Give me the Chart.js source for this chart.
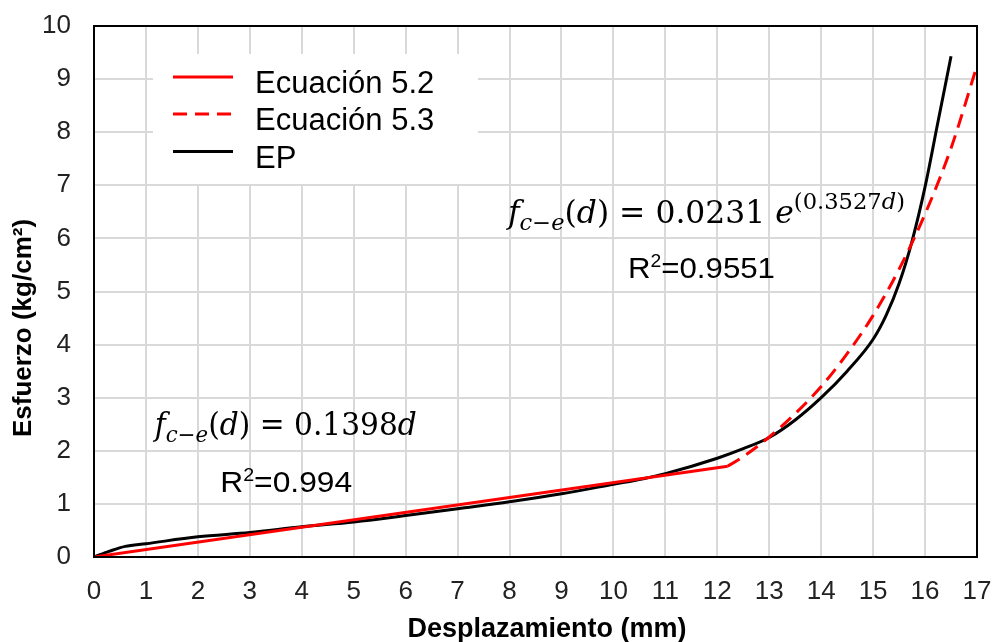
<!DOCTYPE html>
<html>
<head>
<meta charset="utf-8">
<script src="https://cdn.jsdelivr.net/npm/chart.js@4.4.1/dist/chart.umd.min.js"></script>
<style>
  html, body { margin: 0; padding: 0; background: #ffffff; }
  #wrap { width: 995px; height: 642px; position: relative; }
</style>
</head>
<body>
<div id="wrap"><canvas id="c" width="995" height="642"></canvas></div>
<script>
// ---- data ----
const eq52X = [0, 12.2];
const eq52Y = [0, 1.71];

const eq53X = [12.2, 12.5, 13, 13.5, 14, 14.5, 15, 15.5, 16, 16.5, 17];
const eq53Y = [1.71, 1.89, 2.26, 2.70, 3.21, 3.83, 4.55, 5.42, 6.46, 7.70, 9.25];

const epX = [0, 0.3, 0.6, 1, 2, 3, 4, 5, 6, 7, 8, 9, 10, 10.6, 11, 12, 12.5, 13, 13.5, 14, 14.5, 15, 15.25, 15.5, 15.75, 16, 16.25, 16.5];
const epY = [0, 0.11, 0.2, 0.25, 0.38, 0.46, 0.57, 0.66, 0.78, 0.91, 1.04, 1.19, 1.37, 1.48, 1.57, 1.86, 2.04, 2.25, 2.58, 3.0, 3.5, 4.1, 4.55, 5.15, 5.95, 6.97, 8.2, 9.43];

const seriesLabels = ['Ecuación 5.2', 'Ecuación 5.3', 'EP'];
const xTitle = 'Desplazamiento (mm)';
const yTitle = 'Esfuerzo (kg/cm²)';
const xMin = 0, xMax = 17, yMin = 0, yMax = 10;

const toPts = (xs, ys) => xs.map((x, i) => ({x: x, y: ys[i]}));

// ---- helper for rich (sub/superscript) text, fitted to a target width ----
function drawRich(ctx, x, y, pieces, size, family, targetW) {
  const fontOf = p => (p.i ? 'italic ' : '') + (size * (p.sc || 1)) + 'px ' + (p.f || family);
  let total = 0;
  pieces.forEach(p => { ctx.font = fontOf(p); total += ctx.measureText(p.t).width; });
  const k = targetW ? targetW / total : 1;
  ctx.save();
  ctx.translate(x, y);
  ctx.scale(k, 1);
  ctx.textAlign = 'left';
  ctx.textBaseline = 'alphabetic';
  let cx = 0;
  pieces.forEach(p => {
    ctx.font = fontOf(p);
    ctx.fillText(p.t, cx, (p.dy || 0) * size);
    cx += ctx.measureText(p.t).width;
  });
  ctx.restore();
}

const decorPlugin = {
  id: 'decor',
  beforeDatasetsDraw(chart) {
    const ctx = chart.ctx;
    ctx.save();
    ctx.fillStyle = '#ffffff';
    ctx.fillRect(153, 54, 325, 130);
    ctx.restore();
  },
  afterDatasetsDraw(chart) {
    const ctx = chart.ctx;
    const a = chart.chartArea;
    const xs = chart.scales.x, ys = chart.scales.y;
    ctx.save();
    ctx.strokeStyle = '#000000';
    ctx.lineWidth = 2;
    ctx.strokeRect(a.left, a.top, a.right - a.left, a.bottom - a.top);

    // legend
    const rows = [77, 114, 151.5];
    chart.data.datasets.forEach((ds, i) => {
      ctx.beginPath();
      ctx.setLineDash(ds.borderDash || []);
      ctx.strokeStyle = ds.borderColor;
      ctx.lineWidth = 3;
      ctx.moveTo(173, rows[i]);
      ctx.lineTo(233, rows[i]);
      ctx.stroke();
      ctx.setLineDash([]);
      ctx.fillStyle = '#000000';
      ctx.font = '31px "Liberation Sans", Arial, sans-serif';
      ctx.textAlign = 'left';
      ctx.textBaseline = 'alphabetic';
      ctx.fillText(ds.label, 255, rows[i] + 16);
    });

    // equations
    ctx.fillStyle = '#000000';
    const serif = '"DejaVu Serif", "Liberation Serif", serif';
    const eq1 = [
      {t: 'f', i: 1}, {t: 'c\u2212e', i: 1, sc: 0.72, dy: 0.22},
      {t: '('}, {t: 'd', i: 1}, {t: ')'}, {t: ' = 0.1398'}, {t: 'd', i: 1}
    ];
    drawRich(ctx, xs.getPixelForValue(1.17), ys.getPixelForValue(2.30), eq1, 31, serif, 262);
    const eq2 = [
      {t: 'f', i: 1}, {t: 'c\u2212e', i: 1, sc: 0.72, dy: 0.22},
      {t: '('}, {t: 'd', i: 1}, {t: ')'}, {t: ' = 0.0231 '}, {t: 'e', i: 1},
      {t: '(0.3527', sc: 0.72, dy: -0.45}, {t: 'd', i: 1, sc: 0.72, dy: -0.45}, {t: ')', sc: 0.72, dy: -0.45}
    ];
    drawRich(ctx, xs.getPixelForValue(7.97), ys.getPixelForValue(6.29), eq2, 31, serif, 397);

    const sans = '"Liberation Sans", Arial, sans-serif';
    const r1 = [{t: 'R'}, {t: '2', sc: 0.62, dy: -0.36}, {t: '=0.994'}];
    drawRich(ctx, xs.getPixelForValue(2.43), ys.getPixelForValue(1.22), r1, 30, sans, 132);
    const r2 = [{t: 'R'}, {t: '2', sc: 0.62, dy: -0.36}, {t: '=0.9551'}];
    drawRich(ctx, xs.getPixelForValue(10.28), ys.getPixelForValue(5.25), r2, 30, sans, 147);

    // axis titles
    ctx.fillStyle = '#000000';
    ctx.font = 'bold 27px "Liberation Sans", Arial, sans-serif';
    ctx.textAlign = 'center';
    ctx.textBaseline = 'middle';
    ctx.fillText(xTitle, 547, 630);
    ctx.font = 'bold 26px "Liberation Sans", Arial, sans-serif';
    ctx.translate(24, 328);
    ctx.rotate(-Math.PI / 2);
    ctx.fillText(yTitle, 0, 0);
    ctx.restore();
  }
};

new Chart(document.getElementById('c'), {
  type: 'line',
  data: {
    datasets: [
      {label: seriesLabels[0], data: toPts(eq52X, eq52Y), borderColor: '#ff0000', borderWidth: 3, pointRadius: 0, tension: 0, fill: false},
      {label: seriesLabels[1], data: toPts(eq53X, eq53Y), borderColor: '#ff0000', borderWidth: 3, borderDash: [14, 8], pointRadius: 0, cubicInterpolationMode: 'monotone', fill: false},
      {label: seriesLabels[2], data: toPts(epX, epY), borderColor: '#000000', borderWidth: 3, pointRadius: 0, cubicInterpolationMode: 'monotone', fill: false}
    ]
  },
  options: {
    responsive: false,
    animation: false,
    devicePixelRatio: 1,
    layout: {padding: {top: 26, right: 18, left: 0, bottom: 0}},
    plugins: {legend: {display: false}, tooltip: {enabled: false}},
    scales: {
      x: {
        type: 'linear', min: xMin, max: xMax,
        ticks: {stepSize: 1, font: {size: 26, family: '"Liberation Sans", Arial, sans-serif'}, color: '#222222', padding: 19, maxRotation: 0, autoSkip: false},
        grid: {color: '#d9d9d9', lineWidth: 2, drawTicks: false},
        border: {display: false},
        afterFit: s => { s.height = 85; s.paddingLeft = 0; s.paddingRight = 0; }
      },
      y: {
        type: 'linear', min: yMin, max: yMax,
        ticks: {stepSize: 1, font: {size: 26, family: '"Liberation Sans", Arial, sans-serif'}, color: '#222222', padding: 23},
        grid: {color: '#d9d9d9', lineWidth: 2, drawTicks: false},
        border: {display: false},
        afterFit: s => { s.width = 94; s.paddingTop = 0; s.paddingBottom = 0; }
      }
    }
  },
  plugins: [decorPlugin]
});
</script>
</body>
</html>
